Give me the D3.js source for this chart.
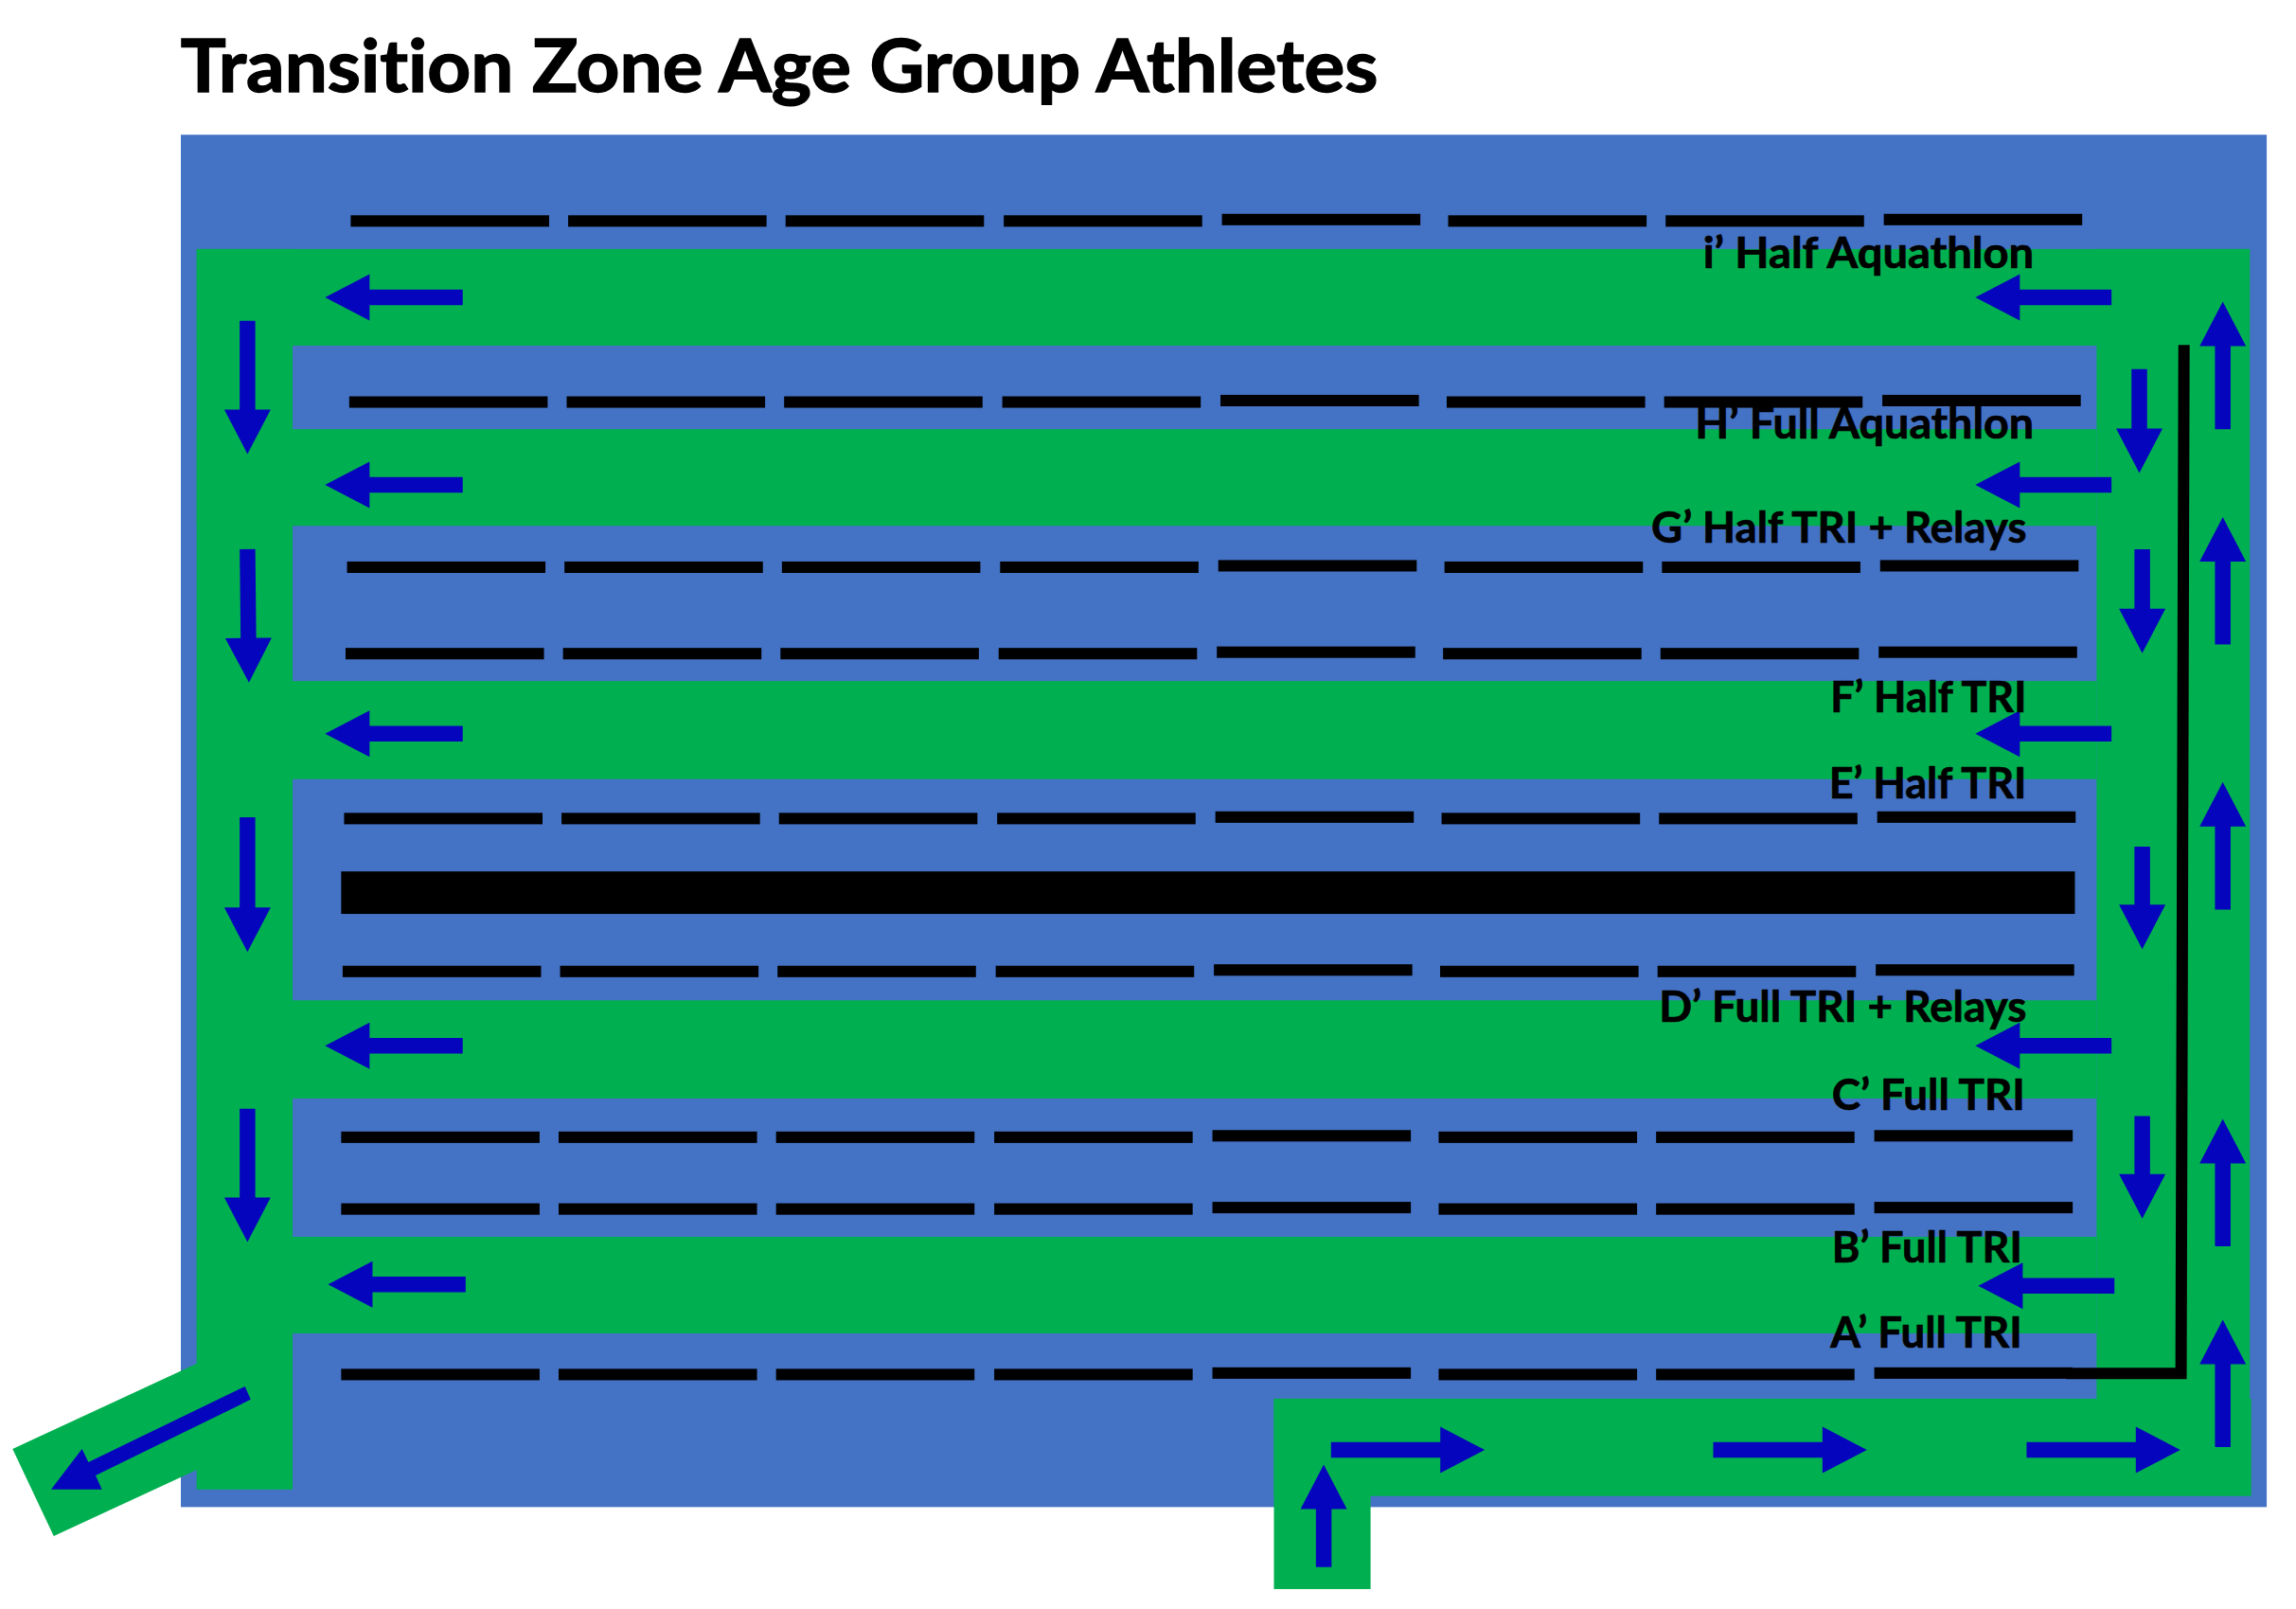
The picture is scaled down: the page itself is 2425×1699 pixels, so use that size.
<!DOCTYPE html>
<html><head><meta charset="utf-8">
<script src="https://cdn.jsdelivr.net/npm/d3@7"></script>
<style>html,body{margin:0;padding:0;background:#fff}svg{display:block}text{font-variant-ligatures:none;font-feature-settings:"liga" 0}</style>
</head><body><div id="c"></div>
<script>
const W=2425,H=1699;
const titleText="Transition Zone Age Group Athletes";
// site plan values, in plan units
const zoneBlue=[[123.5,92,1548,1029]];
const roadGreen=[[134.3,170,1536.4,236],[134.3,170,199.8,1017],[1431.8,170,1536.4,1021],[134.3,293,1431.8,359],[134.3,465,1431.8,532],[134.3,683,1431.8,750],[134.3,844.5,1431.8,910.4],[870,955,1537.4,1021.5],[870,955,936,1085]];
const exitRoad=[[8.6,989.3],[36.7,1048.8],[134.5,1003.5],[134.5,931]];
const rowNames=["i","H","G","F","E","D","C","B","A"];
const rackY=[151,274.6,387.4,446.4,559,663.4,776.6,825.6,938.6];
const rackX=[239.5,238.5,237,236,235,234,233,233,233];
const segStart=[0,148.5,297,446,595,749.5,898,1047];
const segLift=[0,0,0,0,1,0,0,1];
const segLen=135.5;
const rackBar=[233,595,1417,624];
const wire=[[1411,937.7],[1489.5,937.7],[1491.5,235.5]];
const arrows=[
 [316,203,222,203],[316,331,222,331],[316,501,222,501],[316,714,222,714],[318,877,224,877],
 [1442,203,1349,203],[1442,331,1349,331],[1442,501,1349,501],[1442,714,1349,714],[1444,878,1351,878],
 [169,219,169,310],[169,375,170,466],[169,558,169,650],[169,757,169,848],
 [1461,252,1461,323],[1463,375,1463,446],[1463,578,1463,648],[1463,762,1463,832],
 [1518,293,1518,206],[1518,440,1518,353],[1518,621,1518,534],[1518,851,1518,764],[1518,988,1518,901],
 [909,990,1014,990],[1170,990,1275,990],[1384,990,1489,990],
 [904,1070,904,1000]];
const exitArrow=[[167.3,946.6],[171.2,955.6],[65.3,1007.4],[69.6,1016.9],[34.9,1016.9],[56,989.3],[60.4,998.3]];
const labelText=["i’ Half Aquathlon","H’ Full Aquathlon","G’ Half TRI + Relays","F’ Half TRI","E’ Half TRI","D’ Full TRI + Relays","C’ Full TRI","B’ Full TRI","A’ Full TRI"];
const labelLeft=[1163,1157.6,1127.7,1250,1249,1133,1251,1251,1250];
const labelRight=[1389,1389,1384,1384,1384,1384,1383,1381,1381];
const labelBase=[183,299.5,370.5,486,545,698,758,861.7,920];

const x=d3.scaleLinear().domain([0,1568]).range([0,W]);
const y=d3.scaleLinear().domain([0,1098.6]).range([0,H]);
const svg=d3.select("#c").append("svg").attr("width",W).attr("height",H).attr("viewBox",`0 0 ${W} ${H}`);
svg.append("rect").attr("width",W).attr("height",H).attr("fill","#fff");
const BLUE="#4472C4",GREEN="#00B050",ARROW="#0505BD";
const rects=(data,fill)=>svg.append("g").selectAll("rect").data(data).join("rect")
 .attr("x",d=>x(d[0])).attr("y",d=>y(d[1])).attr("width",d=>x(d[2])-x(d[0])).attr("height",d=>y(d[3])-y(d[1])).attr("fill",fill);
rects(zoneBlue,BLUE);
const line=d3.line().x(d=>x(d[0])).y(d=>y(d[1]));
svg.append("path").attr("d",line(exitRoad)+"Z").attr("fill",GREEN);
rects(roadGreen,GREEN);
// racks
const segs=rackY.flatMap((ry,i)=>segStart.map((s,j)=>[rackX[i]+s,ry-segLift[j]-4,rackX[i]+s+segLen,ry-segLift[j]+3.8]));
rects(segs,"#000");
rects([rackBar],"#000");
svg.append("path").attr("d",line(wire)).attr("fill","none").attr("stroke","#000").attr("stroke-width",12).attr("stroke-linejoin","miter");
// arrows
const SHAFT=16.5,HEADW=49,HEADL=47;
svg.append("g").selectAll("path").data(arrows).join("path").attr("fill",ARROW).attr("d",d=>{
 const x0=x(d[0]),y0=y(d[1]),x1=x(d[2]),y1=y(d[3]);
 const L=Math.hypot(x1-x0,y1-y0),u=(x1-x0)/L,v=(y1-y0)/L,n=-v,m=u;
 const bx=x1-u*HEADL,by=y1-v*HEADL;
 const pts=[[x0+n*SHAFT/2,y0+m*SHAFT/2],[bx+n*SHAFT/2,by+m*SHAFT/2],[bx+n*HEADW/2,by+m*HEADW/2],[x1,y1],[bx-n*HEADW/2,by-m*HEADW/2],[bx-n*SHAFT/2,by-m*SHAFT/2],[x0-n*SHAFT/2,y0-m*SHAFT/2]];
 return "M"+pts.map(p=>p.join(",")).join("L")+"Z";
});
svg.append("path").attr("d",line(exitArrow)+"Z").attr("fill",ARROW);
// text
svg.append("text").text(titleText).attr("x",x(123.4)).attr("y",y(62.5)).attr("font-family","Lato, sans-serif").attr("font-weight",700).attr("font-size",76)
 .attr("textLength",x(941)-x(123.4)).attr("lengthAdjust","spacingAndGlyphs").attr("fill","#000").attr("stroke","#000").attr("stroke-width",1.4);
svg.append("g").selectAll("text").data(labelText).join("text").text(d=>d)
 .attr("x",(d,i)=>x(labelLeft[i])).attr("y",(d,i)=>y(labelBase[i])).attr("font-family","Lato, sans-serif").attr("font-weight",700).attr("font-size",45)
 .attr("textLength",(d,i)=>x(labelRight[i])-x(labelLeft[i])).attr("lengthAdjust","spacingAndGlyphs").attr("fill","#000").attr("stroke","#000").attr("stroke-width",0.7);
</script></body></html>
